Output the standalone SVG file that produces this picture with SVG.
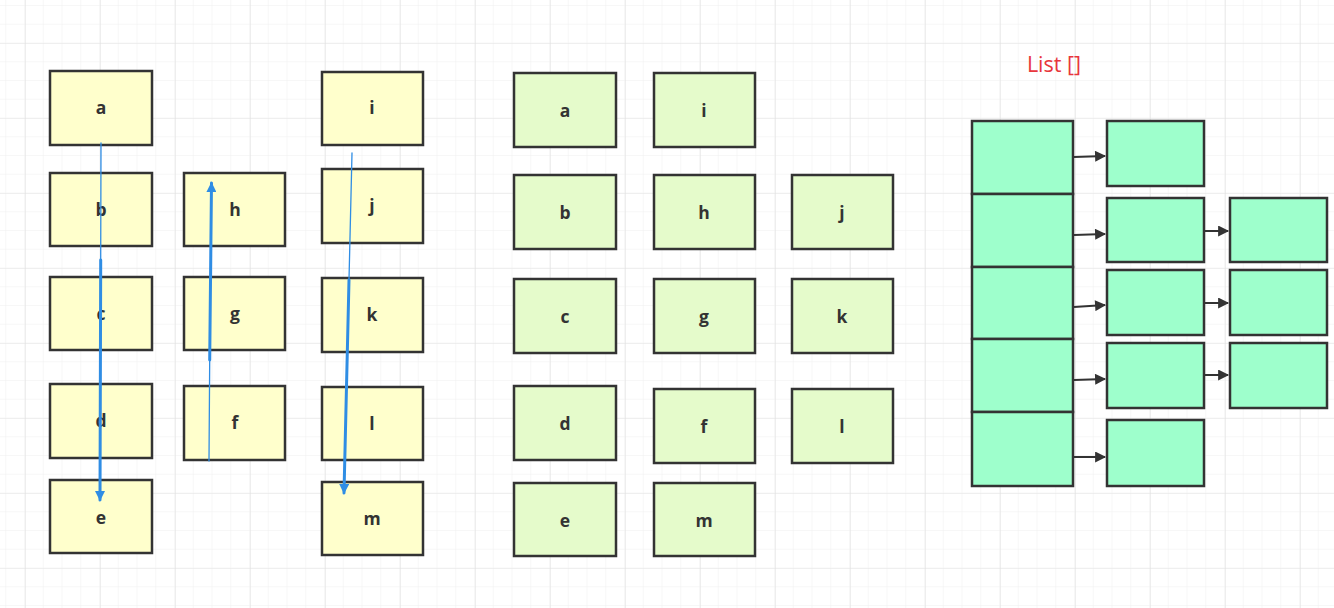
<svg xmlns="http://www.w3.org/2000/svg" width="1334" height="608" viewBox="0 0 1334 608">
<defs>
<pattern id="minor" x="6.25" y="6" width="18.75" height="18.75" patternUnits="userSpaceOnUse">
<path d="M18.75 0V18.75M0 18.75H18.75" fill="none" stroke="#f0f0f0" stroke-width="1"/>
</pattern>
<pattern id="major" x="25" y="43" width="75" height="75" patternUnits="userSpaceOnUse">
<path d="M0 0V75M0 0H75" fill="none" stroke="#e3e3e3" stroke-width="1.2"/>
</pattern>
<marker id="blue" viewBox="0 0 10 10" refX="9" refY="5" markerWidth="11" markerHeight="10" markerUnits="userSpaceOnUse" orient="auto">
<path d="M0 0L10 5L0 10Z" fill="#2f8de4"/>
</marker>
<marker id="dark" viewBox="0 0 10 10" refX="9" refY="5" markerWidth="13" markerHeight="11" markerUnits="userSpaceOnUse" orient="auto">
<path d="M0 0L10 5L0 10Z" fill="#333"/>
</marker>
</defs>
<style>
.y{fill:#ffffcc;stroke:#333;stroke-width:2.5}
.g{fill:#e5fbcb;stroke:#333;stroke-width:2.5}
.m{fill:#9effcc;stroke:#333;stroke-width:2.5}
.t{font-family:"Open Sans","Liberation Sans",sans-serif;font-weight:bold;font-size:17.5px;fill:#333;text-anchor:middle}
.bl{fill:none;stroke:#2f8de4;stroke-linecap:round}
.dk{fill:none;stroke:#333;stroke-width:2}
</style>
<rect width="1334" height="608" fill="#fff"/>
<rect width="1334" height="608" fill="url(#minor)"/>
<rect width="1334" height="608" fill="url(#major)"/>

<g id="yellow-a"><rect class="y" x="50" y="71" width="102" height="74"/><text class="t" x="101" y="114">a</text></g>
<g id="yellow-b"><rect class="y" x="50" y="173" width="102" height="73"/><text class="t" x="101" y="216">b</text></g>
<g id="yellow-c"><rect class="y" x="50" y="277" width="102" height="73"/><text class="t" x="101" y="320">c</text></g>
<g id="yellow-d"><rect class="y" x="50" y="384" width="102" height="74"/><text class="t" x="101" y="427">d</text></g>
<g id="yellow-e"><rect class="y" x="50" y="480" width="102" height="73"/><text class="t" x="101" y="524">e</text></g>
<g id="yellow-h"><rect class="y" x="184" y="173" width="101" height="73"/><text class="t" x="235" y="216">h</text></g>
<g id="yellow-g"><rect class="y" x="184" y="277" width="101" height="73"/><text class="t" x="235" y="320">g</text></g>
<g id="yellow-f"><rect class="y" x="184" y="386" width="101" height="74"/><text class="t" x="235" y="429">f</text></g>
<g id="yellow-i"><rect class="y" x="322" y="72" width="101" height="73"/><text class="t" x="372" y="114">i</text></g>
<g id="yellow-j"><rect class="y" x="322" y="169" width="101" height="74"/><text class="t" x="372" y="212">j</text></g>
<g id="yellow-k"><rect class="y" x="322" y="278" width="101" height="74"/><text class="t" x="372" y="321">k</text></g>
<g id="yellow-l"><rect class="y" x="322" y="387" width="101" height="73"/><text class="t" x="372" y="430">l</text></g>
<g id="yellow-m"><rect class="y" x="322" y="482" width="101" height="73"/><text class="t" x="372" y="525">m</text></g>

<g id="green-a"><rect class="g" x="514" y="73" width="102" height="74"/><text class="t" x="565" y="117">a</text></g>
<g id="green-i"><rect class="g" x="654" y="73" width="101" height="74"/><text class="t" x="704" y="117">i</text></g>
<g id="green-b"><rect class="g" x="514" y="175" width="102" height="74"/><text class="t" x="565" y="219">b</text></g>
<g id="green-h"><rect class="g" x="654" y="175" width="101" height="74"/><text class="t" x="704" y="219">h</text></g>
<g id="green-j"><rect class="g" x="792" y="175" width="101" height="74"/><text class="t" x="842" y="219">j</text></g>
<g id="green-c"><rect class="g" x="514" y="279" width="102" height="74"/><text class="t" x="565" y="323">c</text></g>
<g id="green-g"><rect class="g" x="654" y="279" width="101" height="74"/><text class="t" x="704" y="323">g</text></g>
<g id="green-k"><rect class="g" x="792" y="279" width="101" height="74"/><text class="t" x="842" y="323">k</text></g>
<g id="green-d"><rect class="g" x="514" y="386" width="102" height="74"/><text class="t" x="565" y="430">d</text></g>
<g id="green-f"><rect class="g" x="654" y="389" width="101" height="74"/><text class="t" x="704" y="433">f</text></g>
<g id="green-l"><rect class="g" x="792" y="389" width="101" height="74"/><text class="t" x="842" y="433">l</text></g>
<g id="green-e"><rect class="g" x="514" y="483" width="102" height="73"/><text class="t" x="565" y="527">e</text></g>
<g id="green-m"><rect class="g" x="654" y="483" width="101" height="73"/><text class="t" x="704" y="527">m</text></g>

<g id="list-label"><text x="1054" y="72" font-family="'Open Sans','Liberation Sans',sans-serif" font-size="21.5" fill="#e8363c" text-anchor="middle">List []</text></g>
<g id="list">
<rect class="m" x="972" y="121" width="101" height="73"/>
<rect class="m" x="972" y="194" width="101" height="73"/>
<rect class="m" x="972" y="267" width="101" height="72"/>
<rect class="m" x="972" y="339" width="101" height="73"/>
<rect class="m" x="972" y="412" width="101" height="74"/>
</g>
<g id="node-1-1"><rect class="m" x="1107" y="121" width="97" height="65"/></g>
<g id="node-2-1"><rect class="m" x="1107" y="198" width="97" height="64"/></g>
<g id="node-3-1"><rect class="m" x="1107" y="270" width="97" height="65"/></g>
<g id="node-4-1"><rect class="m" x="1107" y="343" width="97" height="65"/></g>
<g id="node-5-1"><rect class="m" x="1107" y="420" width="97" height="66"/></g>
<g id="node-2-2"><rect class="m" x="1230" y="198" width="97" height="64"/></g>
<g id="node-3-2"><rect class="m" x="1230" y="270" width="97" height="65"/></g>
<g id="node-4-2"><rect class="m" x="1230" y="343" width="97" height="65"/></g>

<g id="connectors">
<path class="bl" d="M101 143L100.7 260" stroke-width="1.3"/>
<path class="bl" d="M100.7 260L100 500" stroke-width="3" marker-end="url(#blue)"/>
<path class="bl" d="M209 461L209.7 360" stroke-width="1.3"/>
<path class="bl" d="M209.7 360L211.5 183" stroke-width="3" marker-end="url(#blue)"/>
<path class="bl" d="M352 153L349 280" stroke-width="1.3"/>
<path class="bl" d="M349 280L344 493" stroke-width="3" marker-end="url(#blue)"/>
<path class="dk" d="M1074 157L1105 156" marker-end="url(#dark)"/>
<path class="dk" d="M1074 235L1105 234" marker-end="url(#dark)"/>
<path class="dk" d="M1074 307L1105 305" marker-end="url(#dark)"/>
<path class="dk" d="M1074 380L1105 379" marker-end="url(#dark)"/>
<path class="dk" d="M1074 457L1105 457" marker-end="url(#dark)"/>
<path class="dk" d="M1205 231L1228 231" marker-end="url(#dark)"/>
<path class="dk" d="M1205 303L1228 303" marker-end="url(#dark)"/>
<path class="dk" d="M1205 375L1228 375" marker-end="url(#dark)"/>
</g>
</svg>
